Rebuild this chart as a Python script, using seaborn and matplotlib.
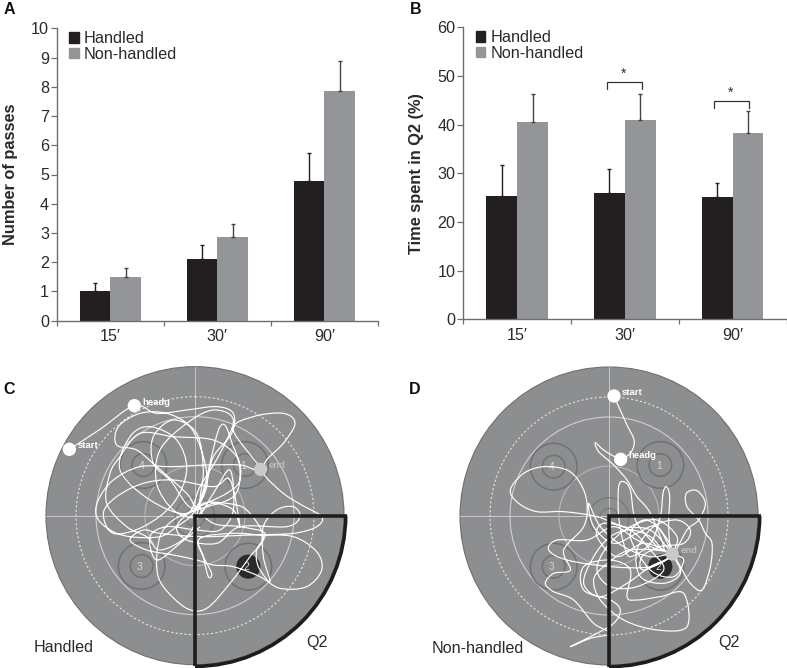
import numpy as np
import pandas as pd
import seaborn as sns
import matplotlib
matplotlib.use("Agg")
import matplotlib.pyplot as plt
from matplotlib.path import Path
from matplotlib.patches import PathPatch, Circle, Arc, Patch

# ---------- data ----------
times = ["15′", "30′", "90′"]
groups = ["Handled", "Non-handled"]
passes_handled = [1.0, 2.1, 4.78]
passes_nonhandled = [1.5, 2.87, 7.87]
passes_handled_top = [1.3, 2.58, 5.75]
passes_nonhandled_top = [1.8, 3.32, 8.87]
q2_handled = [25.4, 26.0, 25.2]
q2_nonhandled = [40.5, 40.9, 38.3]
q2_handled_top = [31.8, 30.9, 28.0]
q2_nonhandled_top = [46.3, 46.3, 42.7]

# swim paths (arena coordinates)
path_c = [(208,238),(300,178),(403,107),(470,130),(560,120),(650,110),(700,130),(695,190),(640,260),(620,340),(590,410),
          (560,370),(470,290),(410,240),(350,225),(355,170),(420,130),(500,130),(570,170),(610,260),(620,350),(580,430),
          (530,470),(480,500),(390,500),(330,480),(290,440),(295,390),(340,330),(420,290),(520,290),(620,285),(720,285),(782,298),
          (700,180),(760,140),(850,130),(885,160),(850,220),(800,270),(790,310),(850,370),(905,405),(965,440),(950,470),(880,490),
          (750,495),(600,500),(480,490),(430,480),(390,510),(440,540),(520,555),(590,570),(640,585),(700,590),(780,620),(840,655),
          (920,650),(965,600),(950,545),(880,500),(780,495),(700,490),(600,505),(610,560),(625,620),(635,610),(610,560),(590,510),
          (590,440),(610,400),(680,400),(740,420),(790,500),(750,560),(690,640),(620,715),(560,715),(490,650),(470,590),(480,500),
          (520,450),(590,420),(700,380),(720,300),(700,230),(660,170),(590,410),(510,330),(460,280),(460,200),(520,150),(590,190),
          (610,300),(600,410),(640,460),(720,470),(795,490),(770,540),(775,590),(810,635),(790,560),(790,470),(830,420),(880,410),
          (900,440),(860,470),(720,470),(650,520),(560,510),(530,470),(580,420),(680,370),(720,330),(710,260),(640,210),(520,200),
          (420,190),(360,260),(330,310),(320,400),(380,470),(440,500),(480,540),(560,500),(600,430),(640,400),(700,420),(720,470),
          (690,330),(640,350),(520,330),(430,340),(350,380),(310,430),(340,490),(430,470),(520,400),(560,300),(530,210),(450,170),
          (390,200),(360,300),(450,390),(560,430),(600,350),(660,250),(700,150),(640,120),(560,160),(480,240),(470,340),(520,420),
          (590,440),(640,370),(690,300),(700,420),(660,480),(590,480),(500,470),(450,500),(470,570),(540,520),(600,470)]
path_d = [(651,78),(665,110),(690,165),(712,215),(695,255),(660,262),(620,240),(595,218),(605,245),(650,285),(690,330),(720,380),
          (760,430),(800,540),(720,460),(700,360),(680,335),(665,350),(665,440),(680,520),(700,560),(760,520),(790,440),(798,370),
          (808,350),(818,380),(815,470),(826,552),(870,480),(905,450),(925,400),(900,362),(868,370),(870,410),(905,450),(925,490),
          (945,520),(940,590),(915,660),(880,640),(850,590),(826,552),(760,480),(680,470),(600,440),(500,425),(420,425),(365,400),
          (340,360),(380,310),(440,290),(510,300),(550,340),(570,400),(560,470),(500,540),(520,600),(470,610),(445,640),(470,665),
          (530,690),(590,760),(640,790),(580,805),(520,830),(590,795),(650,760),(670,720),(640,690),(560,660),(560,590),(640,570),
          (700,600),(690,680),(720,690),(790,680),(860,670),(870,770),(780,780),(680,750),(610,690),(590,630),(620,590),(700,540),
          (826,552),(740,600),(735,560),(790,530),(860,520),(880,480),(840,450),(770,470),(720,540),(730,620),(800,640),(850,610),
          (826,552),(780,470),(720,490),(650,520),(590,470),(575,400),(610,470),(680,530),(760,560),(826,552),(760,590),(640,590),
          (510,570),(455,540),(480,510),(570,510),(650,470),(720,510),(790,540),(760,500),(700,480),(640,500),(590,560),(560,640),
          (610,680),(690,640),(760,590),(826,552),(790,480),(740,450),(700,500),(760,600),(830,620),(860,570),(826,552),(740,520),
          (660,560),(600,500),(620,460),(700,480),(760,540),(800,600),(720,650),(640,650),(600,600),(630,530),(700,470),(780,450),
          (840,500),(826,552)]

arena_c = dict(centre=(585,437), start=(208,238), headg=(403,107), end=(782,298),
               rings={"4":(430,285),"1":(735,285),"3":(425,588),"2":(745,590)}, blob=(745,590),
               name="Handled", name_xy=(100,833), q2_xy=(920,818))
arena_d = dict(centre=(636,438), start=(651,78), headg=(671,268), end=(826,552),
               rings={"4":(470,290),"1":(790,285),"3":(470,590),"2":(790,590)}, blob=(790,590),
               name="Non-handled", name_xy=(105,835), q2_xy=(965,818))

# ---------- style ----------
W, H = 787, 668
sns.set_theme(style="white")
plt.rcParams["font.family"] = ["Liberation Sans", "DejaVu Sans"]
TXT, BLK, GRY, SP = "#2a2a2a", "#231f20", "#939598", "#6d6e71"
DISK = "#8d8e90"

fig = plt.figure(figsize=(W/100, H/100), dpi=100, facecolor="white")

def px_axes(x0, y0, x1, y1):
    return fig.add_axes([x0/W, 1-y1/H, (x1-x0)/W, (y1-y0)/H])

def bars(ax, h, n, ht, nt, ymax, yticks, ylabel):
    df = pd.DataFrame({"t": times*2,
                       "v": list(h)+list(n),
                       "g": [groups[0]]*3+[groups[1]]*3})
    sns.barplot(data=df, x="t", y="v", hue="g", hue_order=groups, palette=[BLK, GRY],
                width=0.572, gap=0, saturation=1, errorbar=None, ax=ax, legend=False, linewidth=0)
    ec = ["#222222", "#444444"]
    cont = ax.containers
    for c, vals, tops, col in zip(cont, (h, n), (ht, nt), ec):
        xs = [p.get_x()+p.get_width()/2 for p in c.patches]
        ax.errorbar(xs, vals, yerr=[np.zeros(3), np.array(tops)-np.array(vals)], fmt="none",
                    ecolor=col, elinewidth=1.0, capsize=1.3, capthick=1.0, zorder=1)
    ax.set_xlim(-0.5, 2.5)
    ax.set_ylim(0, ymax)
    ax.set_yticks(yticks)
    ax.set_xticks([0, 1, 2], times)
    ax.set_xticks([-0.5, 0.5, 1.5, 2.5], minor=True)
    ax.tick_params(axis="x", which="major", length=0, pad=6, labelsize=11.6, labelcolor=TXT)
    ax.tick_params(axis="x", which="minor", length=3.5, width=0.9, color=SP, bottom=True)
    ax.tick_params(axis="y", length=4, width=0.9, color=SP, left=True, pad=1.5, labelsize=11.6, labelcolor=TXT)
    for s in ("top", "right"):
        ax.spines[s].set_visible(False)
    for s in ("left", "bottom"):
        ax.spines[s].set_color(SP)
        ax.spines[s].set_linewidth(1.0)
    ax.set_xlabel("")
    ax.set_ylabel(ylabel, fontsize=11.8, fontweight="bold", color=TXT, labelpad=0)
    ax.legend(handles=[Patch(color=BLK, label=groups[0]), Patch(color=GRY, label=groups[1])],
              loc="upper left", bbox_to_anchor=(0.038, 0.99), frameon=False, fontsize=11.7,
              handlelength=0.6, handleheight=0.6, handletextpad=0.3, labelspacing=0.03,
              labelcolor=TXT, borderaxespad=0, borderpad=0)

ax_a = px_axes(56.7, 28.3, 378, 320.7)
bars(ax_a, passes_handled, passes_nonhandled, passes_handled_top, passes_nonhandled_top,
     10, range(0, 11), "Number of passes")
ax_a.yaxis.set_label_coords(-0.122, 0.5)

ax_b = px_axes(463.3, 27.3, 786.5, 319.3)
bars(ax_b, q2_handled, q2_nonhandled, q2_handled_top, q2_nonhandled_top,
     60, range(0, 61, 10), "Time spent in Q2 (%)")
ax_b.yaxis.set_label_coords(-0.122, 0.5)

for (x0, x1, lo, hi) in [(0.836, 1.160, 47.3, 48.8), (1.826, 2.148, 43.4, 44.9)]:
    ax_b.plot([x0, x0, x1, x1], [lo, hi, hi, lo], color="#333333", lw=0.9, solid_joinstyle="miter")
    ax_b.text((x0+x1)/2-0.01, hi+0.3, "*", ha="center", va="bottom", fontsize=10, color=TXT)

def swim_path(points):
    # smooth curve through the traced way-points, drawn as matplotlib Bezier segments
    pts = np.array(points, float)
    p = np.vstack([pts[0], pts, pts[-1]])
    verts, codes = [tuple(pts[0])], [Path.MOVETO]
    for i in range(1, len(p)-2):
        c1 = p[i] + (p[i+1]-p[i-1])/6
        c2 = p[i+1] - (p[i+2]-p[i])/6
        verts += [tuple(c1), tuple(c2), tuple(p[i+1])]
        codes += [Path.CURVE4]*3
    return Path(verts, codes)

def arena(x0, info, points):
    ax = px_axes(x0, 360, x0+390, 668)
    ax.set_xlim(0, 1170); ax.set_ylim(894, -30)
    ax.set_axis_off()
    ax.patch.set_alpha(0)
    cx, cy = info["centre"]
    ax.add_patch(Circle((cx, cy), 447, fc=DISK, ec="#6f7072", lw=0.8, zorder=1))
    ax.plot([cx-447, cx+447], [cy, cy], color="#c9c9cb", lw=0.7, zorder=2)
    ax.plot([cx, cx], [cy-447, cy+447], color="#c9c9cb", lw=0.7, zorder=2)
    ax.add_patch(Circle((cx, cy), 357, fc="none", ec="#e4e4e4", lw=0.8, ls=(0, (2, 2)), zorder=2))
    ax.add_patch(Circle((cx, cy), 297, fc="none", ec="#d0d0d2", lw=0.8, zorder=2))
    ax.add_patch(Circle((cx, cy), 150, fc="none", ec="#b8b8ba", lw=0.8, zorder=2))
    ring = "#707173"
    for r in (60, 28):
        ax.add_patch(Circle((cx, cy+5), r, fc="none", ec="#78797b", lw=1.0, zorder=2))
    for lab, (x, y) in info["rings"].items():
        for r in (70, 34):
            ax.add_patch(Circle((x, y), r, fc="none", ec=ring, lw=1.1, zorder=2))
        ax.text(x-5, y+2, lab, ha="center", va="center", fontsize=7.5, color="#d8d8d8", zorder=2.5)
    ax.add_patch(Circle(info["blob"], 36, fc="#2a2a2b", ec="none", zorder=2.2))
    ax.add_patch(PathPatch(swim_path(points), fc="none", ec="white", lw=0.85, zorder=3))
    for key, col in (("start", "white"), ("headg", "white"), ("end", "#c9c9c9")):
        x, y = info[key]
        ax.add_patch(Circle((x, y), 20, fc=col, ec="none", zorder=4))
        ax.text(x+24, y-10, key, ha="left", va="center", fontsize=6.8, fontweight="bold",
                color=col if key != "end" else "#bdbdbd", zorder=4)
    # Q2 quadrant outline
    R = 452
    ax.plot([cx+R+3, cx, cx], [cy, cy, cy+R], color="#1d1d1d", lw=2.6,
            solid_joinstyle="miter", solid_capstyle="butt", zorder=5)
    ax.add_patch(Arc((cx, cy), 2*R, 2*R, theta1=0, theta2=90, ec="#1d1d1d", lw=2.6, zorder=5))
    ax.text(*info["name_xy"], info["name"], ha="left", va="center", fontsize=11.6, color=TXT, zorder=6)
    ax.text(*info["q2_xy"], "Q2", ha="left", va="center", fontsize=11.6, color=TXT, zorder=6)
    return ax

arena(0, arena_c, path_c)
arena(397, arena_d, path_d)

for lab, x, y in (("A", 3.5, 9), ("B", 410, 9), ("C", 3.5, 390), ("D", 409, 390)):
    fig.text(x/W, 1-y/H, lab, fontsize=11.5, fontweight="bold", color="#111111", ha="left", va="center")

fig.savefig("out.png", dpi=100)
